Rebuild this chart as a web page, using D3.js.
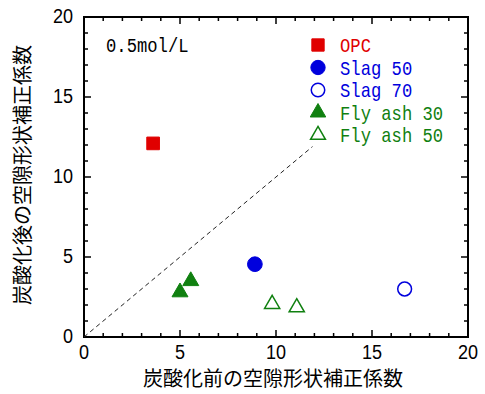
<!DOCTYPE html>
<html>
<head>
<meta charset="utf-8">
<script src="https://cdn.jsdelivr.net/npm/d3@7"></script>
<style>
body { margin: 0; background: #fff; }
.mono { font-family: "Liberation Mono", "DejaVu Sans Mono", monospace; }
.num { font-family: "Liberation Sans", Arial, sans-serif; }
.jp { font-family: "Noto Sans CJK JP", sans-serif; }
</style>
</head>
<body>
<svg id="chart" width="485" height="394"></svg>
<script>
var width = 485, height = 394;
var margin = { left: 84, right: 17, top: 17, bottom: 57 };

var xTicks = [0, 5, 10, 15, 20];
var yTicks = [0, 5, 10, 15, 20];

var opc = [{ x: 3.6, y: 12.1 }];
var slag50 = [{ x: 8.9, y: 4.55 }];
var slag70 = [{ x: 16.7, y: 3.0 }];
var flyash30 = [{ x: 5.0, y: 2.8 }, { x: 5.56, y: 3.5 }];
var flyash50 = [{ x: 9.8, y: 2.06 }, { x: 11.08, y: 1.85 }];
var diagLine = [{ x: 0, y: 0 }, { x: 11.9, y: 11.9 }];

var series = [
    { name: 'OPC', data: opc, symbol: d3.symbolSquare, size: 160, color: '#e00000', fill: true },
    { name: 'Slag 50', data: slag50, symbol: d3.symbolCircle, size: 170, color: '#0000dd', fill: true },
    { name: 'Slag 70', data: slag70, symbol: d3.symbolCircle, size: 150, color: '#0000dd', fill: false },
    { name: 'Fly ash 30', data: flyash30, symbol: d3.symbolTriangle, size: 110, color: '#108010', fill: true },
    { name: 'Fly ash 50', data: flyash50, symbol: d3.symbolTriangle, size: 100, color: '#108010', fill: false }
];

var svg = d3.select('#chart');
var x = d3.scaleLinear().domain([0, 20]).range([margin.left, width - margin.right]);
var y = d3.scaleLinear().domain([0, 20]).range([height - margin.bottom, margin.top]);

// condensed text helper (the original uses a narrow gothic font)
function label(cls, tx, ty, size, sx, anchor, color, str) {
    return svg.append('text')
        .attr('class', cls)
        .attr('transform', 'translate(' + tx + ',' + ty + ') scale(' + sx + ',1)')
        .attr('text-anchor', anchor)
        .attr('font-size', size)
        .attr('fill', color)
        .text(str);
}

// minor + major ticks, pointing inward on all four sides
var minor = d3.range(0, 21, 1);
var g = svg.append('g').attr('stroke', '#000').attr('stroke-width', 1.5);
minor.forEach(function (v) {
    var len = (v % 5 === 0) ? 7 : 4;
    g.append('line').attr('x1', x(v)).attr('x2', x(v)).attr('y1', y(0)).attr('y2', y(0) - len);
    g.append('line').attr('x1', x(v)).attr('x2', x(v)).attr('y1', y(20)).attr('y2', y(20) + len);
    g.append('line').attr('y1', y(v)).attr('y2', y(v)).attr('x1', x(0)).attr('x2', x(0) + len);
    g.append('line').attr('y1', y(v)).attr('y2', y(v)).attr('x1', x(20)).attr('x2', x(20) - len);
});

svg.append('rect')
    .attr('x', x(0)).attr('y', y(20))
    .attr('width', x(20) - x(0)).attr('height', y(0) - y(20))
    .attr('fill', 'none').attr('stroke', '#000').attr('stroke-width', 2);

xTicks.forEach(function (d) {
    label('num', x(d), y(0) + 22, 20.5, 0.88, 'middle', '#000', d);
});
yTicks.forEach(function (d) {
    label('num', x(0) - 11, y(d) + 5.5, 20.5, 0.88, 'end', '#000', d);
});

// 1:1 line
svg.append('path')
    .datum(diagLine)
    .attr('d', d3.line().x(function (d) { return x(d.x); }).y(function (d) { return y(d.y); }))
    .attr('fill', 'none').attr('stroke', '#222').attr('stroke-width', 1)
    .attr('stroke-dasharray', '4.5,3.5');

series.forEach(function (s) {
    svg.selectAll(null).data(s.data).enter().append('path')
        .attr('transform', function (d) { return 'translate(' + x(d.x) + ',' + y(d.y) + ')'; })
        .attr('d', d3.symbol().type(s.symbol).size(s.size))
        .attr('fill', s.fill ? s.color : 'none')
        .attr('stroke', s.color)
        .attr('stroke-width', s.fill ? 1 : 1.5);
});

// legend
series.forEach(function (s, i) {
    var ly = 45 + i * 22.5;
    svg.append('path')
        .attr('transform', 'translate(318,' + ly + ')')
        .attr('d', d3.symbol().type(s.symbol).size(s.size * 0.95))
        .attr('fill', s.fill ? s.color : 'none')
        .attr('stroke', s.color)
        .attr('stroke-width', s.fill ? 1 : 1.5);
    label('mono', 340, ly + 7, 20, 0.86, 'start', s.color, s.name);
});

label('mono', 106, 52, 20, 0.86, 'start', '#000', '0.5mol/L');

svg.append('text')
    .attr('class', 'jp')
    .attr('x', (x(0) + x(20)) / 2 - 3).attr('y', 386)
    .attr('text-anchor', 'middle')
    .attr('font-size', 20)
    .text('炭酸化前の空隙形状補正係数');

svg.append('text')
    .attr('class', 'jp')
    .attr('transform', 'translate(30,' + ((y(0) + y(20)) / 2 - 2) + ') rotate(-90)')
    .attr('text-anchor', 'middle')
    .attr('font-size', 20)
    .text('炭酸化後の空隙形状補正係数');
</script>
</body>
</html>
